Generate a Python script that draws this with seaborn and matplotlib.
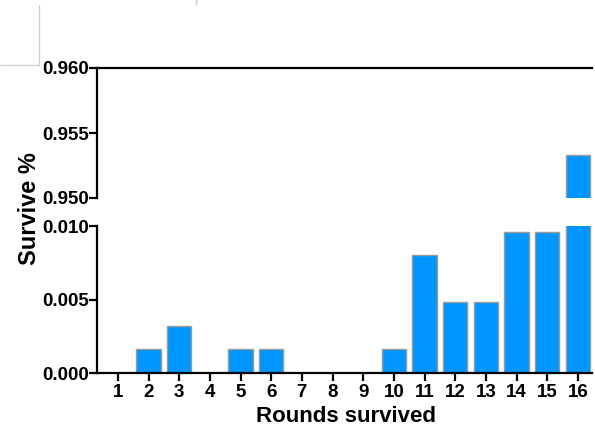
import matplotlib
matplotlib.use("Agg")
import matplotlib.pyplot as plt
from matplotlib.lines import Line2D
import seaborn as sns
import pandas as pd

# Survival fraction per number of rounds survived
rounds = [str(i) for i in range(1, 17)]
survive = [0.0, 0.0016, 0.0032, 0.0, 0.0016, 0.0016, 0.0, 0.0, 0.0, 0.0016,
           0.0080, 0.0048, 0.0048, 0.0096, 0.0096, 0.9533]

low_ticks = [0.000, 0.005, 0.010]
high_ticks = [0.950, 0.955, 0.960]

df = pd.DataFrame({"Rounds survived": rounds, "Survive %": survive})

sns.set_style("white")
plt.rcParams["font.family"] = ["Liberation Sans", "DejaVu Sans"]
plt.rcParams["font.weight"] = "bold"
for key in ("text.color", "axes.labelcolor", "xtick.color", "ytick.color"):
    plt.rcParams[key] = "black"

fig = plt.figure(figsize=(5.95, 4.30), dpi=100)
left, right = 97 / 595, 592 / 595
ax_hi = fig.add_axes([left, 1 - 198 / 430, right - left, 130 / 430])
ax_lo = fig.add_axes([left, 1 - 373 / 430, right - left, 147 / 430])

bar_kw = dict(data=df, x="Rounds survived", y="Survive %", color="#0096FF",
              saturation=1, width=0.8, edgecolor="#9a9a9a", linewidth=1.0)
sns.barplot(ax=ax_lo, **bar_kw)
sns.barplot(ax=ax_hi, **bar_kw)

xlim = (-0.68, 15.46)
for ax in (ax_lo, ax_hi):
    ax.set_xlim(*xlim)
    ax.set_xlabel("")
    ax.set_ylabel("")
    for s in ax.spines.values():
        s.set_linewidth(1.6)
        s.set_color("black")
    ax.spines["right"].set_visible(False)
    ax.tick_params(axis="y", direction="out", length=6, width=1.6,
                   labelsize=13.5, pad=0, left=True, colors="black")

ax_lo.set_ylim(0, 0.010)
ax_lo.set_yticks(low_ticks)
ax_lo.set_yticklabels([f"{t:.3f}" for t in low_ticks], fontweight="bold")
ax_lo.spines["top"].set_visible(False)
ax_lo.tick_params(axis="x", direction="out", length=6, width=1.6,
                  labelsize=13.5, pad=2, bottom=True, colors="black")
for lbl in ax_lo.get_xticklabels():
    lbl.set_fontweight("bold")

ax_hi.set_ylim(0.950, 0.960)
ax_hi.set_yticks(high_ticks)
ax_hi.set_yticklabels([f"{t:.3f}" for t in high_ticks], fontweight="bold")
ax_hi.spines["bottom"].set_visible(False)
ax_hi.set_xticks([])

fig.text(0.05, 1 - 209 / 430, "Survive %", rotation=90, ha="center",
         va="center", fontsize=17, fontweight="bold", color="black")
fig.text(346 / 595, 1 - 416 / 430, "Rounds survived",
         ha="center", va="center", fontsize=16, fontweight="bold",
         color="black")

# faint frame lines at the upper left corner
fig.add_artist(Line2D([39 / 595, 39 / 595], [1 - 5 / 430, 1 - 65 / 430],
                      color="#d0d0d0", lw=1))
fig.add_artist(Line2D([0, 39 / 595], [1 - 65 / 430, 1 - 65 / 430],
                      color="#d0d0d0", lw=1))
fig.add_artist(Line2D([196 / 595, 196 / 595], [1, 1 - 4 / 430],
                      color="#c8c8c8", lw=1))

fig.savefig("out.png", dpi=100)
